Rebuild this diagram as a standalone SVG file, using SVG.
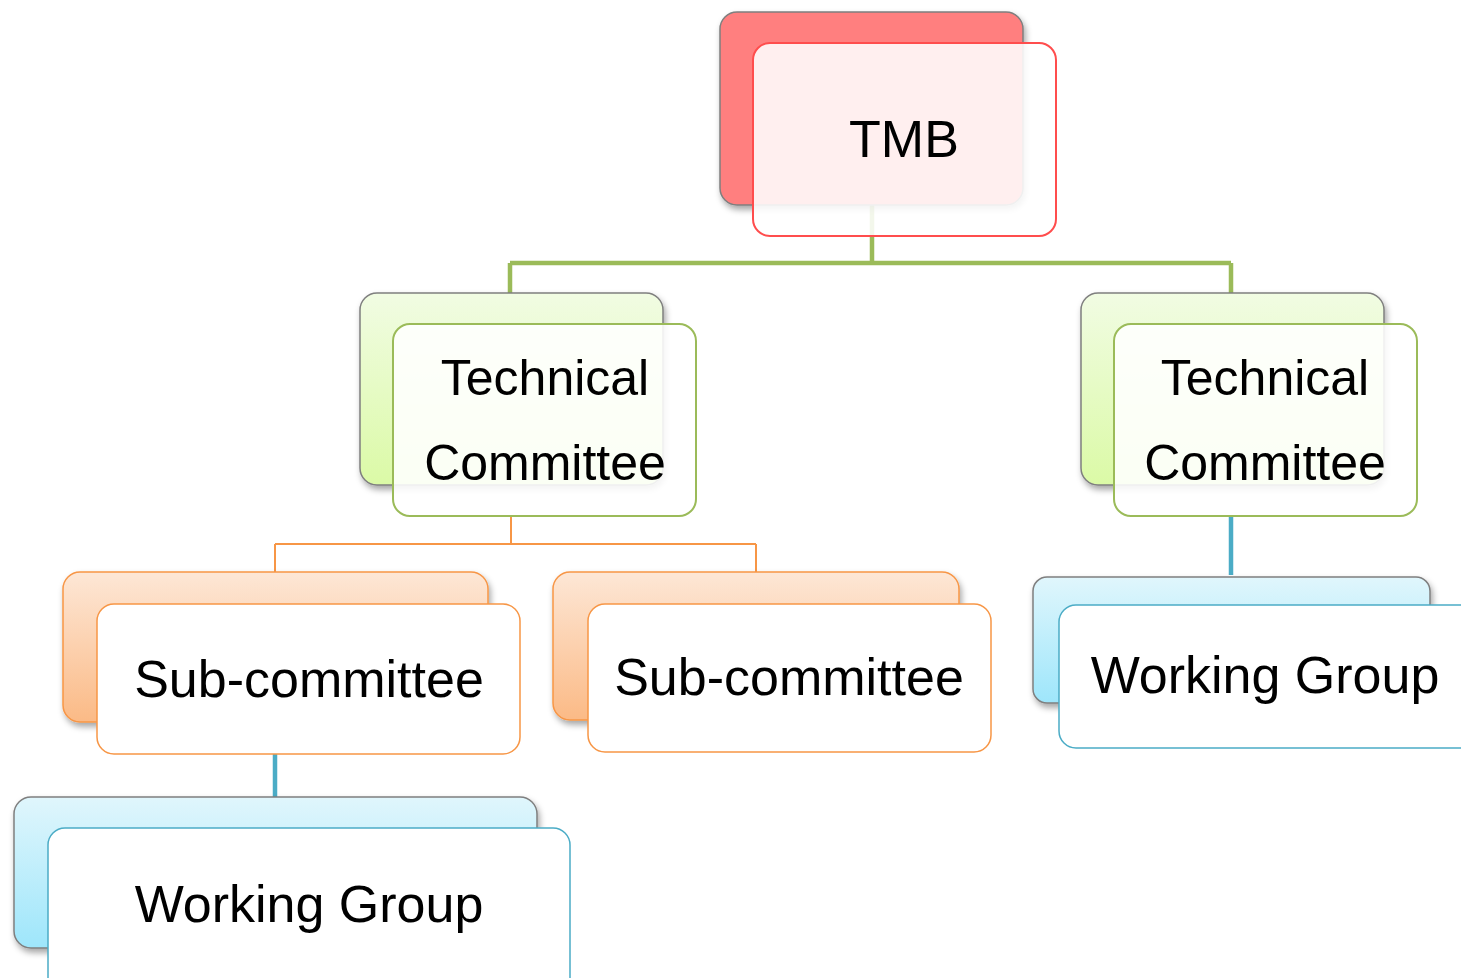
<svg xmlns="http://www.w3.org/2000/svg" width="1461" height="978" viewBox="0 0 1461 978">
<defs>
<filter id="sh" x="-10%" y="-10%" width="125%" height="130%">
<feDropShadow dx="2" dy="4" stdDeviation="3" flood-color="#000" flood-opacity="0.35"/>
</filter>
<linearGradient id="gGreen" x1="0" y1="0" x2="0" y2="1"><stop offset="0" stop-color="#F1FCE3"/><stop offset="1" stop-color="#DBFAA6"/></linearGradient>
<linearGradient id="gOrange" x1="0" y1="0" x2="0" y2="1"><stop offset="0" stop-color="#FDE7D6"/><stop offset="1" stop-color="#FBBA86"/></linearGradient>
<linearGradient id="gBlue" x1="0" y1="0" x2="0" y2="1"><stop offset="0" stop-color="#E0F6FC"/><stop offset="1" stop-color="#9EE6FB"/></linearGradient>
</defs>
<style>
.back{stroke:#7F7F7F;stroke-width:1.5;filter:url(#sh)}
.back.orange{stroke:#F79646}
.front{fill:#FFFFFF;fill-opacity:0.88;stroke-width:2}
.solid{fill:#FFFFFF;stroke-width:1.5}
.lbl{font-family:"Liberation Sans",Arial,sans-serif;font-size:52px;fill:#000;text-anchor:middle}
.tc{font-size:50px}
</style>
<rect width="1461" height="978" fill="#FFFFFF"/>
<g id="connectors" fill="none" stroke-linecap="butt">
<path d="M872 205 V263 M510 263 H1231 M510 263 V293 M1231 263 V293" stroke="#9BBB59" stroke-width="4.5"/>
<path d="M511 516 V544 M275 544 H756 M275 544 V572 M756 544 V572" stroke="#F79646" stroke-width="2"/>
<path d="M275 754 V797 M1231 516 V575" stroke="#4BACC6" stroke-width="4.5"/>
</g>
<g id="tmb">
<rect class="back" x="720" y="12" width="303" height="193" rx="17" fill="#FF7F7F"/>
<rect class="front" x="753" y="43" width="303" height="193" rx="17" stroke="#FF4D4D"/>
<text class="lbl" x="904" y="157">TMB</text>
</g>
<g id="tc-left">
<rect class="back" x="360" y="293" width="303" height="192" rx="17" fill="url(#gGreen)"/>
<rect class="front" x="393" y="324" width="303" height="192" rx="17" stroke="#9BBB59"/>
<text class="lbl tc" x="545" y="395">Technical</text>
<text class="lbl tc" x="545" y="480">Committee</text>
</g>
<g id="tc-right">
<rect class="back" x="1081" y="293" width="303" height="192" rx="17" fill="url(#gGreen)"/>
<rect class="front" x="1114" y="324" width="303" height="192" rx="17" stroke="#9BBB59"/>
<text class="lbl tc" x="1265" y="395">Technical</text>
<text class="lbl tc" x="1265" y="480">Committee</text>
</g>
<g id="sc-left">
<rect class="back orange" x="63" y="572" width="425" height="150" rx="17" fill="url(#gOrange)"/>
<rect class="solid" x="97" y="604" width="423" height="150" rx="17" stroke="#F79646"/>
<text class="lbl" x="309" y="697">Sub-committee</text>
</g>
<g id="sc-right">
<rect class="back orange" x="553" y="572" width="406" height="148" rx="17" fill="url(#gOrange)"/>
<rect class="solid" x="588" y="604" width="403" height="148" rx="17" stroke="#F79646"/>
<text class="lbl" x="789" y="695">Sub-committee</text>
</g>
<g id="wg-left">
<rect class="back" x="14" y="797" width="523" height="151" rx="17" fill="url(#gBlue)"/>
<rect class="solid" x="48" y="828" width="522" height="170" rx="17" stroke="#4BACC6"/>
<text class="lbl" x="309" y="922">Working Group</text>
</g>
<g id="wg-right">
<rect class="back" x="1033" y="577" width="397" height="126" rx="14" fill="url(#gBlue)"/>
<rect class="solid" x="1059" y="605" width="430" height="143" rx="17" stroke="#4BACC6"/>
<text class="lbl" x="1265" y="693">Working Group</text>
</g>
</svg>
